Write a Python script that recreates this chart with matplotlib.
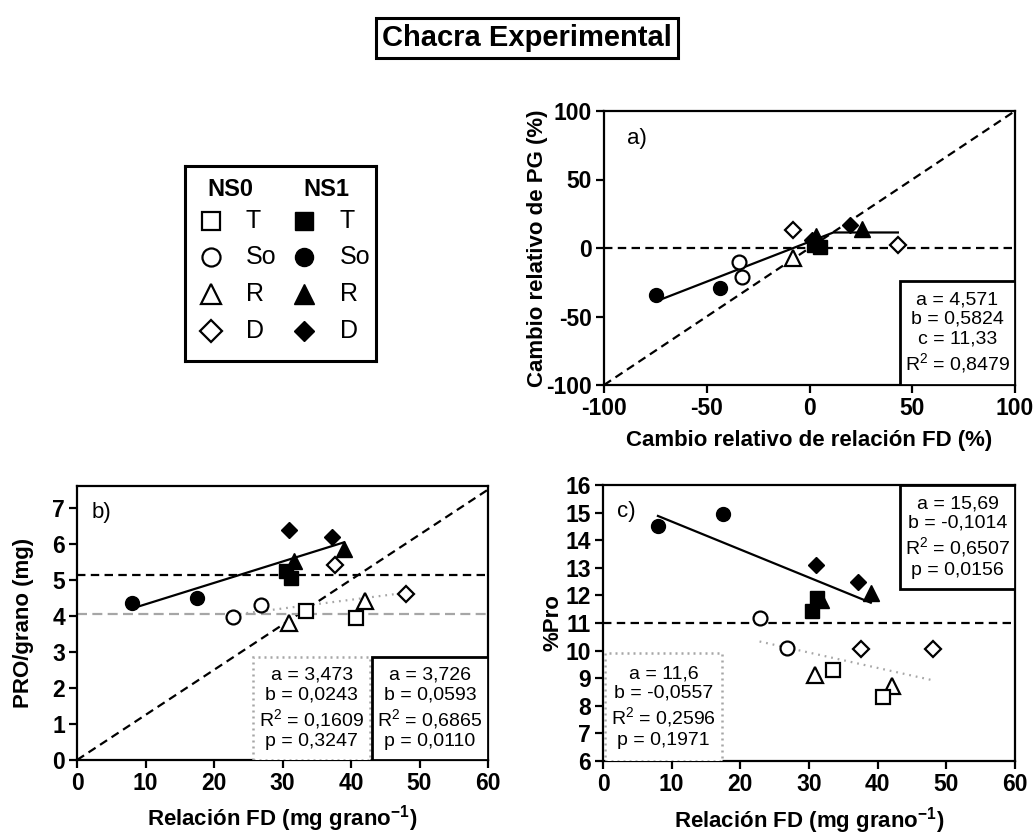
import numpy as np
import matplotlib
matplotlib.use("Agg")
import matplotlib.pyplot as plt
from matplotlib.patches import Rectangle

plt.rcParams['font.family'] = ['Liberation Sans', 'DejaVu Sans']
plt.rcParams['mathtext.fontset'] = 'custom'
plt.rcParams['mathtext.rm'] = 'Liberation Sans'
plt.rcParams['mathtext.bf'] = 'Liberation Sans:bold'
plt.rcParams['mathtext.default'] = 'regular'
plt.rcParams['axes.unicode_minus'] = False

# panel a: relative change (%) of FD ratio (x) and of PG (y)
rel_fd_t1 = [2.2, 5.0]
rel_pg_t1 = [2.5, 1.0]
rel_fd_so0 = [-34.3, -32.8]
rel_pg_so0 = [-10.2, -21.2]
rel_fd_so1 = [-74.5, -43.5]
rel_pg_so1 = [-34.3, -29.2]
rel_fd_r0 = [-8.2]
rel_pg_r0 = [-7.5]
rel_fd_r1 = [3.2, 25.4]
rel_pg_r1 = [9.0, 13.6]
rel_fd_d0 = [-7.9, 43.0]
rel_pg_d0 = [13.1, 2.2]
rel_fd_d1 = [1.1, 19.7]
rel_pg_d1 = [5.8, 16.8]

# panels b and c: FD ratio (mg grano-1)
fd_t0 = [33.5, 40.8]
fd_so0 = [22.8, 26.8]
fd_r0 = [30.9, 42.1]
fd_d0 = [37.6, 48.1]
fd_t1 = [30.5, 31.2]
fd_so1 = [8.0, 17.5]
fd_r1 = [31.7, 39.0]
fd_d1 = [31.0, 37.2]

# PRO/grano (mg)
pro_t0 = [4.12, 3.93]
pro_so0 = [3.96, 4.29]
pro_r0 = [3.79, 4.40]
pro_d0 = [5.40, 4.60]
pro_t1 = [5.25, 5.04]
pro_so1 = [4.35, 4.48]
pro_r1 = [5.51, 5.85]
pro_d1 = [6.38, 6.18]

# %Pro
pct_t0 = [9.30, 8.33]
pct_so0 = [11.17, 10.10]
pct_r0 = [9.12, 8.73]
pct_d0 = [10.06, 10.06]
pct_t1 = [11.45, 11.90]
pct_so1 = [14.51, 14.95]
pct_r1 = [11.83, 12.07]
pct_d1 = [13.10, 12.47]

# fitted parameters
fit_a = [4.571, 0.5824, 11.33]
fit_b_ns1 = [3.726, 0.0593]
fit_b_ns0 = [3.473, 0.0243]
fit_c_ns1 = [15.69, -0.1014]
fit_c_ns0 = [11.6, -0.0557]
mean_pro_ns1 = 5.13
mean_pro_ns0 = 4.05
mean_pct = 11.0

stats_a = "a = 4,571\nb = 0,5824\nc = 11,33\nR$^2$ = 0,8479"
stats_b_ns0 = "a = 3,473\nb = 0,0243\nR$^2$ = 0,1609\np = 0,3247"
stats_b_ns1 = "a = 3,726\nb = 0,0593\nR$^2$ = 0,6865\np = 0,0110"
stats_c_ns1 = "a = 15,69\nb = -0,1014\nR$^2$ = 0,6507\np = 0,0156"
stats_c_ns0 = "a = 11,6\nb = -0,0557\nR$^2$ = 0,2596\np = 0,1971"

GRAY = '#a6a6a6'
DASH = (0, (3.8, 2.4))
W, H = 1033, 835

style = {
    't0': dict(marker='s', ms=9.5, mfc='white', mec='black', mew=1.6),
    'so0': dict(marker='o', ms=10, mfc='white', mec='black', mew=1.6),
    'r0': dict(marker='^', ms=11, mfc='white', mec='black', mew=1.6),
    'd0': dict(marker='D', ms=8.5, mfc='white', mec='black', mew=1.6),
    't1': dict(marker='s', ms=9.5, mfc='black', mec='black', mew=1.0),
    'so1': dict(marker='o', ms=10, mfc='black', mec='black', mew=1.0),
    'r1': dict(marker='^', ms=11, mfc='black', mec='black', mew=1.0),
    'd1': dict(marker='D', ms=8, mfc='black', mec='black', mew=1.0),
}


def px_axes(x0, y0, x1, y1):
    return [x0 / W, 1 - y1 / H, (x1 - x0) / W, (y1 - y0) / H]


def style_axes(ax):
    for s in ax.spines.values():
        s.set_linewidth(1.6)
    ax.tick_params(direction='out', length=6, width=1.6, labelsize=16.5, pad=2.5)
    for lab in ax.get_xticklabels() + ax.get_yticklabels():
        lab.set_fontweight('bold')


def stat_box(ax, x0, y0, x1, y1, text, dotted=False):
    if dotted:
        r = Rectangle((x0, y0), x1 - x0, y1 - y0, transform=ax.transAxes,
                      fill=True, facecolor='white', edgecolor=GRAY, lw=1.8,
                      ls=(0, (0.8, 1.6)), zorder=4)
    else:
        r = Rectangle((x0, y0), x1 - x0, y1 - y0, transform=ax.transAxes,
                      fill=True, facecolor='white', edgecolor='black', lw=2.0,
                      zorder=4)
    ax.add_patch(r)
    ax.text((x0 + x1) / 2, (y0 + y1) / 2, text, transform=ax.transAxes,
            ha='center', va='center', fontsize=14, linespacing=1.2, zorder=5)


fig = plt.figure(figsize=(W / 100, H / 100), dpi=100)

# title
fig.text(527 / W, 1 - 38 / H, "Chacra Experimental", ha='center', va='center',
         fontsize=21, fontweight='bold',
         bbox=dict(boxstyle='square,pad=0.2', fc='white', ec='black', lw=2.2))

# ---------- panel a ----------
ax = fig.add_axes(px_axes(604, 111, 1015, 385))
ax.plot([-100, 100], [-100, 100], color='black', lw=1.6, ls=DASH, zorder=1)
ax.axhline(0, color='black', lw=1.6, ls=DASH, zorder=1)
all_x = rel_fd_t1 + rel_fd_so0 + rel_fd_so1 + rel_fd_r0 + rel_fd_r1 + rel_fd_d0 + rel_fd_d1
xs = np.linspace(min(all_x) + 1.5, max(all_x), 300)
ys = np.minimum(fit_a[0] + fit_a[1] * xs, fit_a[2])
ax.plot(xs, ys, color='black', lw=1.6, zorder=2)
for key, x, y in [('so1', rel_fd_so1, rel_pg_so1), ('so0', rel_fd_so0, rel_pg_so0),
                  ('r0', rel_fd_r0, rel_pg_r0), ('d0', rel_fd_d0, rel_pg_d0),
                  ('t1', rel_fd_t1, rel_pg_t1), ('r1', rel_fd_r1, rel_pg_r1),
                  ('d1', rel_fd_d1, rel_pg_d1)]:
    ax.plot(x, y, ls='none', zorder=3, **style[key])
ax.set_xlim(-100, 100)
ax.set_ylim(-100, 100)
ax.set_xticks([-100, -50, 0, 50, 100])
ax.set_yticks([-100, -50, 0, 50, 100])
style_axes(ax)
ax.text(0.055, 0.9, "a)", transform=ax.transAxes, fontsize=16, va='center')
stat_box(ax, 0.72, 0.0, 1.0, 0.38, stats_a)
ax.set_xlabel("Cambio relativo de relación FD (%)", fontsize=16, fontweight='bold')
ax.set_ylabel("Cambio relativo de PG (%)", fontsize=16, fontweight='bold')
ax.xaxis.set_label_coords(0.5, -0.165)
ax.yaxis.set_label_coords(-0.137, 0.5)

# ---------- panel b ----------
ax = fig.add_axes(px_axes(77, 486, 488, 760))
ax.plot([0, 60], [0, 7.5], color='black', lw=1.6, ls=DASH, zorder=1)
ax.axhline(mean_pro_ns1, color='black', lw=1.6, ls=DASH, zorder=1)
ax.axhline(mean_pro_ns0, color=GRAY, lw=1.6, ls=(0, (4.5, 2.4)), zorder=1)
x1 = fd_t1 + fd_so1 + fd_r1 + fd_d1
x0 = fd_t0 + fd_so0 + fd_r0 + fd_d0
xs1 = np.array([min(x1), max(x1)])
xs0 = np.array([min(x0), max(x0)])
ax.plot(xs1, fit_b_ns1[0] + fit_b_ns1[1] * xs1, color='black', lw=1.6, zorder=2)
ax.plot(xs0, fit_b_ns0[0] + fit_b_ns0[1] * xs0, color=GRAY, lw=1.6,
        ls=(0, (0.8, 2.2)), zorder=2)
for key, x, y in [('so1', fd_so1, pro_so1), ('so0', fd_so0, pro_so0),
                  ('r0', fd_r0, pro_r0), ('t0', fd_t0, pro_t0),
                  ('d0', fd_d0, pro_d0), ('t1', fd_t1, pro_t1),
                  ('r1', fd_r1, pro_r1), ('d1', fd_d1, pro_d1)]:
    ax.plot(x, y, ls='none', zorder=3, **style[key])
ax.set_xlim(0, 60)
ax.set_ylim(0, 7.6)
ax.set_xticks(range(0, 61, 10))
ax.set_yticks(range(0, 8))
style_axes(ax)
ax.text(0.035, 0.905, "b)", transform=ax.transAxes, fontsize=16, va='center')
stat_box(ax, 0.428, 0.0, 0.714, 0.376, stats_b_ns0, dotted=True)
stat_box(ax, 0.718, 0.0, 1.0, 0.376, stats_b_ns1)
ax.set_xlabel("Relación FD (mg grano$^{\\mathbf{-1}}$)", fontsize=16, fontweight='bold')
ax.set_ylabel("PRO/grano (mg)", fontsize=16, fontweight='bold')
ax.xaxis.set_label_coords(0.5, -0.158)
ax.yaxis.set_label_coords(-0.104, 0.5)

# ---------- panel c ----------
ax = fig.add_axes(px_axes(603, 485, 1015, 761))
ax.axhline(mean_pct, color='black', lw=1.6, ls=DASH, zorder=1)
ax.plot(xs1, fit_c_ns1[0] + fit_c_ns1[1] * xs1, color='black', lw=1.6, zorder=2)
ax.plot(xs0, fit_c_ns0[0] + fit_c_ns0[1] * xs0, color=GRAY, lw=1.6,
        ls=(0, (0.8, 2.2)), zorder=2)
for key, x, y in [('so1', fd_so1, pct_so1), ('so0', fd_so0, pct_so0),
                  ('r0', fd_r0, pct_r0), ('t0', fd_t0, pct_t0),
                  ('d0', fd_d0, pct_d0), ('t1', fd_t1, pct_t1),
                  ('r1', fd_r1, pct_r1), ('d1', fd_d1, pct_d1)]:
    ax.plot(x, y, ls='none', zorder=3, **style[key])
ax.set_xlim(0, 60)
ax.set_ylim(6, 16)
ax.set_xticks(range(0, 61, 10))
ax.set_yticks(range(6, 17))
style_axes(ax)
ax.text(0.035, 0.905, "c)", transform=ax.transAxes, fontsize=16, va='center')
stat_box(ax, 0.721, 0.623, 1.0, 1.0, stats_c_ns1)
stat_box(ax, 0.006, 0.0, 0.289, 0.391, stats_c_ns0, dotted=True)
ax.set_xlabel("Relación FD (mg grano$^{\\mathbf{-1}}$)", fontsize=16, fontweight='bold')
ax.set_ylabel("%Pro", fontsize=16, fontweight='bold')
ax.xaxis.set_label_coords(0.5, -0.158)
ax.yaxis.set_label_coords(-0.097, 0.5)

# ---------- legend ----------
lg = fig.add_axes(px_axes(185, 166, 376, 361))
lg.set_xlim(185, 376)
lg.set_ylim(361, 166)
lg.set_xticks([])
lg.set_yticks([])
for s in lg.spines.values():
    s.set_linewidth(2.2)
lg.text(230, 190, "NS0", ha='center', va='center', fontsize=17, fontweight='bold')
lg.text(326, 190, "NS1", ha='center', va='center', fontsize=17, fontweight='bold')
leg_rows = ['T', 'So', 'R', 'D']
leg_keys = ['t', 'so', 'r', 'd']
leg_y = [221, 257, 294, 331]
for lab, key, yy in zip(leg_rows, leg_keys, leg_y):
    for ns, mx, tx in [('0', 211, 246), ('1', 304, 340)]:
        st = dict(style[key + ns])
        st['ms'] = st['ms'] * 1.3
        lg.plot([mx], [yy], ls='none', clip_on=False, **st)
        lg.text(tx, yy, lab, ha='left', va='center', fontsize=18)

fig.savefig("out.png", dpi=100)
